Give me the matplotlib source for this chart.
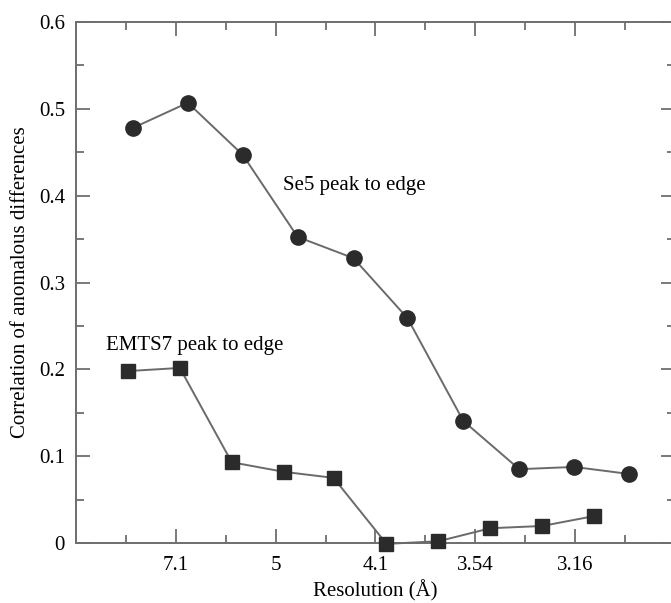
import matplotlib
matplotlib.use("Agg")
import matplotlib.pyplot as plt
import numpy as np

plt.rcParams['font.family'] = ['Liberation Serif', 'DejaVu Serif']

# x values are 1/d^2 (A^-2)
se5_x = [0.0114, 0.0224, 0.0334, 0.0444, 0.0556, 0.0664, 0.0776, 0.0888, 0.0998, 0.1108]
se5_y = [0.478, 0.507, 0.447, 0.3525, 0.328, 0.259, 0.1405, 0.085, 0.0876, 0.0795]

emts7_x = [0.0104, 0.0208, 0.0312, 0.0416, 0.0516, 0.0622, 0.0726, 0.0830, 0.0934, 0.1038]
emts7_y = [0.198, 0.2016, 0.093, 0.082, 0.075, -0.001, 0.002, 0.017, 0.0196, 0.031]

# resolution tick labels and where they sit on the 1/d^2 axis
res_ticks = [0.02, 0.04, 0.06, 0.08, 0.10]
res_labels = ['7.1', '5', '4.1', '3.54', '3.16']

line_col = '#6a6a6a'
mark_col = '#2b2b2b'
axis_col = '#6e6e6e'

fig = plt.figure(figsize=(6.71, 6.03), dpi=100)
ax = fig.add_axes([76/671, 60/603, 599/671, 521/603])

ax.plot(se5_x, se5_y, '-', color=line_col, lw=1.4, marker='o', ms=11,
        mfc=mark_col, mec=mark_col, clip_on=False, zorder=3)
ax.plot(emts7_x, emts7_y, '-', color=line_col, lw=1.4, marker='s', ms=9.5,
        mfc=mark_col, mec=mark_col, clip_on=False, zorder=3)

ax.text(0.0414, 0.412, 'Se5 peak to edge', fontsize=15, va='center', ha='left')
ax.text(0.006, 0.228, 'EMTS7 peak to edge', fontsize=15, va='center', ha='left')

ax.set_xlim(0, 0.12)
ax.set_ylim(0, 0.6)
ax.set_xticks(res_ticks)
ax.set_xticklabels(res_labels)
ax.set_xticks(np.arange(0.01, 0.12, 0.02), minor=True)
ax.set_yticks(np.arange(0, 0.61, 0.1))
ax.set_yticklabels(['0', '0.1', '0.2', '0.3', '0.4', '0.5', '0.6'])
ax.set_yticks(np.arange(0.05, 0.6, 0.1), minor=True)

ax.tick_params(which='both', direction='in', top=True, right=True,
               color=axis_col, width=1.3, labelsize=15)
ax.tick_params(which='major', length=10)
ax.tick_params(which='minor', length=5.5)
ax.tick_params(axis='x', which='major', pad=9)
ax.tick_params(axis='y', which='major', pad=8)

for s in ax.spines.values():
    s.set_color(axis_col)
    s.set_linewidth(1.4)

ax.set_xlabel('Resolution (Å)', fontsize=15, labelpad=4)
ax.set_ylabel('Correlation of anomalous differences', fontsize=15, labelpad=6)

fig.savefig('out.png', dpi=100)
